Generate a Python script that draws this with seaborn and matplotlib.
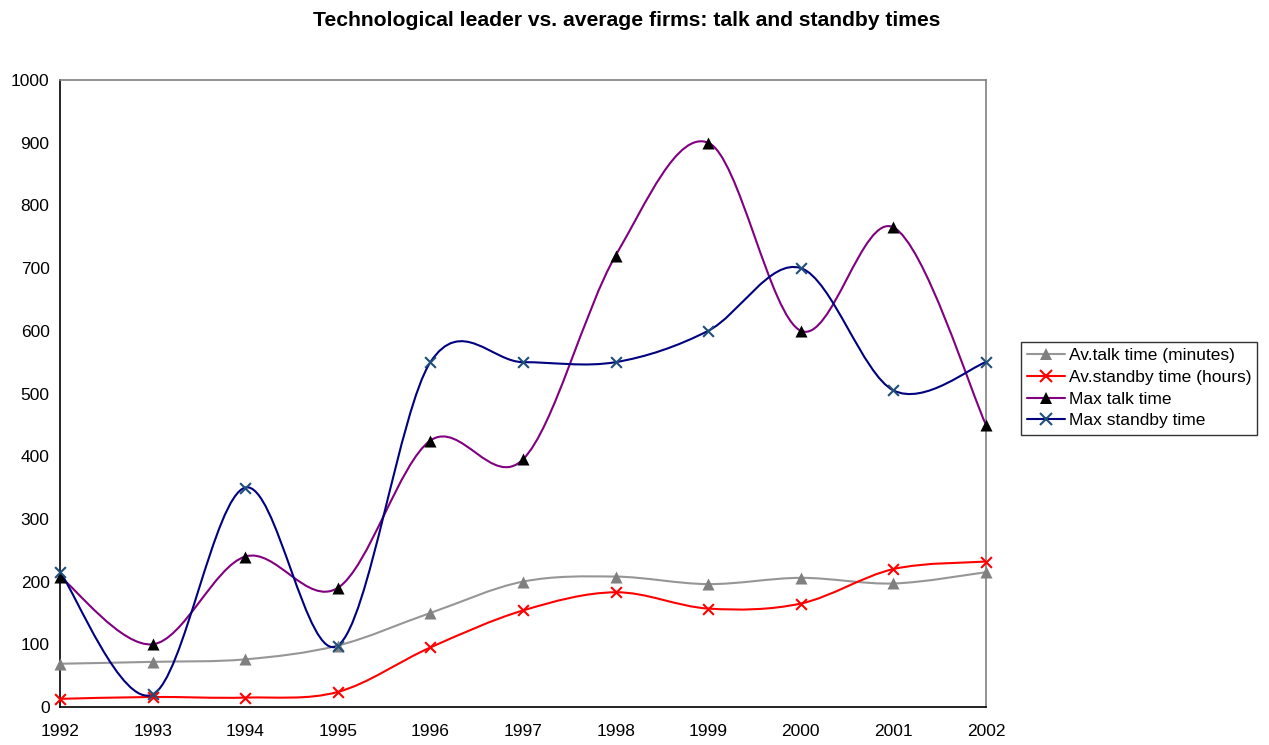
import numpy as np
import pandas as pd
import seaborn as sns
import matplotlib.pyplot as plt
from matplotlib.path import Path
from matplotlib.patches import PathPatch
from matplotlib.lines import Line2D

# data
years = [1992, 1993, 1994, 1995, 1996, 1997, 1998, 1999, 2000, 2001, 2002]
av_talk = [69, 72, 76, 98, 150, 200, 208, 196, 206, 197, 215]
av_standby = [13, 16, 15, 24, 95, 154, 183, 157, 165, 220, 232]
max_talk = [208, 100, 240, 190, 425, 395, 720, 900, 600, 765, 450]
max_standby = [215, 20, 350, 98, 550, 550, 550, 600, 700, 505, 550]

series_names = ["Av.talk time (minutes)", "Av.standby time (hours)",
                "Max talk time", "Max standby time"]

df = pd.DataFrame({"year": years,
                   series_names[0]: av_talk,
                   series_names[1]: av_standby,
                   series_names[2]: max_talk,
                   series_names[3]: max_standby})
long = df.melt(id_vars="year", var_name="series", value_name="value")

# line colour, marker, marker colour, marker size
styles = {
    series_names[0]: ("#969696", "^", "#808080", 75),
    series_names[1]: ("#FF0000", "x", "#FF0000", 60),
    series_names[2]: ("#800080", "^", "#000000", 75),
    series_names[3]: ("#000080", "x", "#1F4E79", 60),
}

sns.set_style("white")
plt.rcParams['font.family'] = ['Liberation Sans', 'DejaVu Sans']
plt.rcParams['text.color'] = 'black'
plt.rcParams['xtick.color'] = 'black'
plt.rcParams['ytick.color'] = 'black'

fig = plt.figure(figsize=(12.69, 7.45), dpi=100)
ax = fig.add_axes([0.0473, 0.051, 0.7297, 0.8416])


def smooth_path(xs, ys):
    # excel-like smoothed line: cubic bezier through the points
    pts = np.column_stack([xs, ys]).astype(float)
    n = len(pts)
    verts = [pts[0]]
    codes = [Path.MOVETO]
    for i in range(n - 1):
        p0 = pts[i - 1] if i > 0 else pts[i]
        p1 = pts[i]
        p2 = pts[i + 1]
        p3 = pts[i + 2] if i + 2 < n else pts[i + 1]
        c1 = p1 + (p2 - p0) / 6.0
        c2 = p2 - (p3 - p1) / 6.0
        verts += [c1, c2, p2]
        codes += [Path.CURVE4] * 3
    return Path(verts, codes)


handles = []
for name in series_names:
    lc, mk, mc, ms = styles[name]
    sub = long[long["series"] == name]
    patch = PathPatch(smooth_path(sub["year"].values, sub["value"].values),
                      facecolor="none", edgecolor=lc, lw=1.5, zorder=2)
    ax.add_patch(patch)
    if mk == "x":
        sns.scatterplot(data=sub, x="year", y="value", marker="x", color=mc,
                        s=ms, linewidth=1.5, ax=ax, zorder=3, clip_on=False,
                        legend=False)
    else:
        sns.scatterplot(data=sub, x="year", y="value", marker="^", color=mc,
                        s=ms, edgecolor=mc, linewidth=0, ax=ax, zorder=3,
                        clip_on=False, legend=False)
    handles.append(Line2D([0], [0], color=lc, lw=1.5, marker=mk,
                          markerfacecolor=mc, markeredgecolor=mc,
                          markersize=8.5, markeredgewidth=1.5 if mk == "x" else 0))

ax.set_xlim(1992, 2002)
ax.set_ylim(0, 1000)
ax.set_xticks(years)
ax.set_yticks(range(0, 1001, 100))
ax.set_xlabel("")
ax.set_ylabel("")
ax.tick_params(axis="both", direction="inout", length=9, width=1,
               labelsize=12.5, pad=3)
ax.tick_params(axis="x", pad=8)

for s in ["left", "bottom"]:
    ax.spines[s].set_color("#000000")
    ax.spines[s].set_linewidth(1.2)
for s in ["top", "right"]:
    ax.spines[s].set_color("#808080")
    ax.spines[s].set_linewidth(1.2)

fig.suptitle("Technological leader vs. average firms: talk and standby times",
             x=0.494, y=0.985, fontsize=15.2, fontweight="bold", color="black")

leg = fig.legend(handles, series_names, loc="upper left",
                 bbox_to_anchor=(1021 / 1269, 1 - 342 / 745),
                 frameon=True, fancybox=False, fontsize=12.5,
                 handlelength=2.2, handletextpad=0.2, borderpad=0.35,
                 labelspacing=0.38, borderaxespad=0)
leg.get_frame().set_edgecolor("#000000")
leg.get_frame().set_linewidth(1)

fig.savefig("out.png", dpi=100)
